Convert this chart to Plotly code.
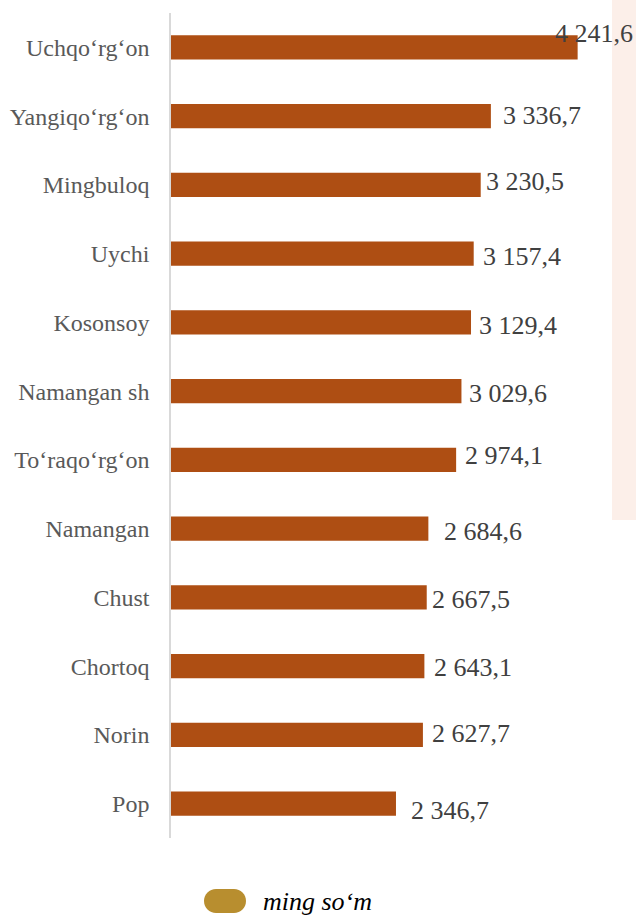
import plotly.graph_objects as go

# Average monthly wage by district, thousand so'm
districts = [
    "Uchqo‘rg‘on", "Yangiqo‘rg‘on", "Mingbuloq", "Uychi", "Kosonsoy",
    "Namangan sh", "To‘raqo‘rg‘on", "Namangan", "Chust", "Chortoq",
    "Norin", "Pop",
]
wages = [4241.6, 3336.7, 3230.5, 3157.4, 3129.4, 3029.6,
         2974.1, 2684.6, 2667.5, 2643.1, 2627.7, 2346.7]
unit_label = "ming so‘m"

# Hand-placed value label offsets (pixels) relative to the bar end
label_dx = [-22.5, 12, 5, 9, 8, 7.5, 9, 15.5, 5, 9.5, 9, 15.5]
label_dy = [13.5, 1, 3, -3, -3, -2, 4, -2.5, -2, -1, 1.5, -7]

W, H = 636, 915
ML, MR, MT, MB = 171, 24, 13, 77
PW, PH = W - ML - MR, H - MT - MB

BAR_COLOR = "#AE4E13"
KEY_COLOR = "#B88E2F"
SERIF = "Liberation Serif, Times New Roman, serif"


def fmt(v):
    whole, frac = f"{v:.1f}".split(".")
    whole = f"{int(whole):,}".replace(",", " ")
    return f"{whole},{frac}"


def px_x(px):
    return (px - ML) / PW


def px_y(py):
    return (H - MB - py) / PH


fig = go.Figure(
    go.Bar(
        x=wages,
        y=districts,
        orientation="h",
        width=0.35,
        marker=dict(color=BAR_COLOR, line=dict(width=0)),
        hoverinfo="x+y",
    )
)

annotations = []
for name, val, dx, dy in zip(districts, wages, label_dx, label_dy):
    annotations.append(dict(
        x=val, y=name, xref="x", yref="y",
        text=fmt(val), showarrow=False,
        xanchor="left", yanchor="middle",
        xshift=dx, yshift=dy, borderpad=0, borderwidth=0,
        font=dict(family=SERIF, size=26, color="#404040"),
    ))

# legend key text
annotations.append(dict(
    x=px_x(263), y=px_y(901), xref="paper", yref="paper",
    text=unit_label, showarrow=False,
    xanchor="left", yanchor="middle", borderpad=0, borderwidth=0,
    font=dict(family=SERIF, size=26, color="#000000", style="italic"),
))

k = 6.63
pill = (f"M-9,-12 L9,-12 C{9+k},-12 21,{-k} 21,0 C21,{k} {9+k},12 9,12 "
        f"L-9,12 C{-9-k},12 -21,{k} -21,0 C-21,{-k} {-9-k},-12 -9,-12 Z")

shapes = [
    # pale side panel on the right
    dict(type="rect", xref="paper", yref="paper",
         x0=1, x1=1 + MR / PW, y0=px_y(520), y1=px_y(0),
         fillcolor="#FCEFE9", line=dict(width=0), layer="below"),
    # rounded legend key
    dict(type="path", xref="paper", yref="paper",
         xsizemode="pixel", ysizemode="pixel",
         xanchor=px_x(225), yanchor=px_y(901),
         path=pill, fillcolor=KEY_COLOR, line=dict(width=0)),
]

fig.update_layout(
    width=W, height=H,
    margin=dict(l=ML, r=MR, t=MT, b=MB, pad=0, autoexpand=False),
    paper_bgcolor="white", plot_bgcolor="white",
    showlegend=False,
    xaxis=dict(range=[0, 4600], visible=False, showgrid=False,
               zeroline=False, automargin=False),
    yaxis=dict(
        type="category", range=[11.5, -0.5], automargin=False,
        showline=True, linecolor="#D9D9D9", linewidth=1.5,
        ticks="", showgrid=False, zeroline=False,
        ticklabelstandoff=15,
        tickfont=dict(family=SERIF, size=24, color="#595959"),
    ),
    annotations=annotations,
    shapes=shapes,
)

fig.write_html("out.html")
